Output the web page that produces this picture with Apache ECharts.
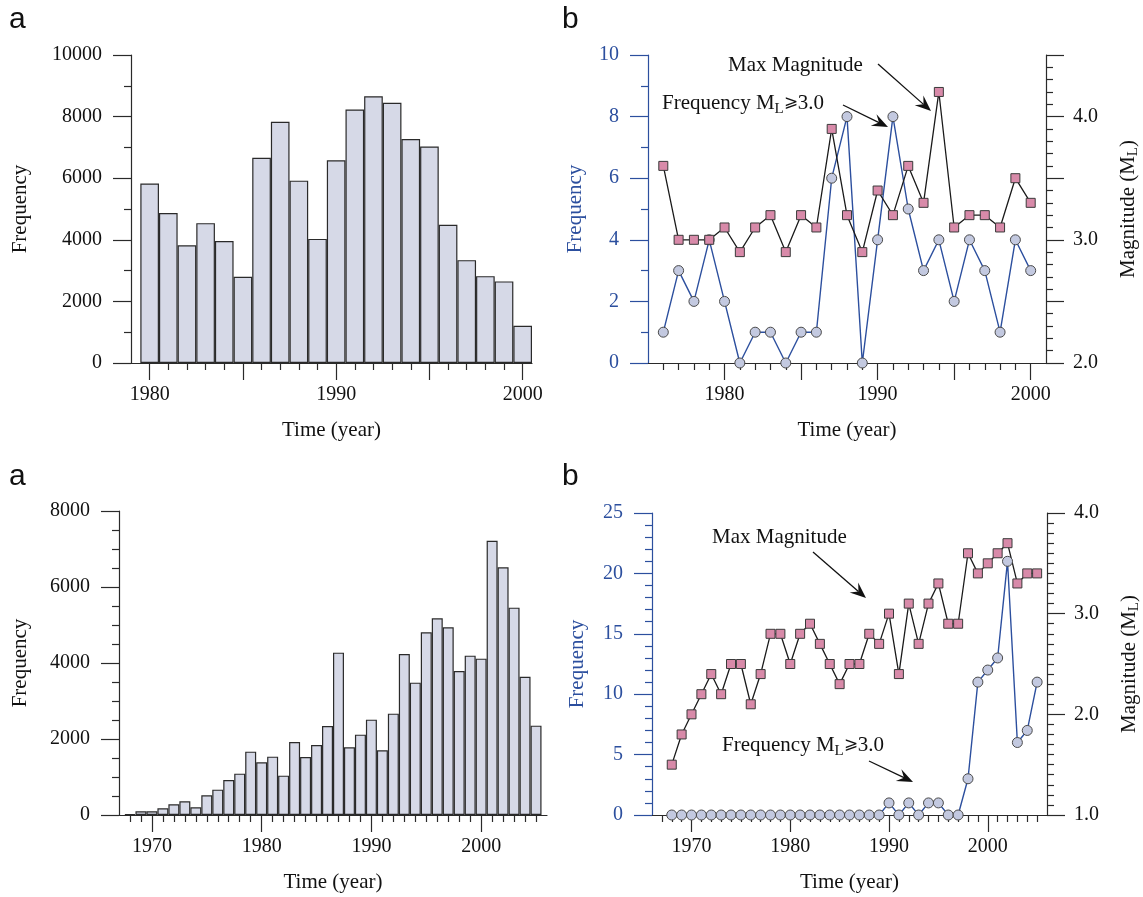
<!DOCTYPE html>
<html>
<head>
<meta charset="utf-8">
<script src="https://cdn.jsdelivr.net/npm/echarts@6/dist/echarts.min.js"></script>
<style>
html, body { margin: 0; padding: 0; background: #fff; }
#main { width: 1143px; height: 897px; }
</style>
</head>
<body>
<div id="main"></div>
<script>
// top row, panel a: yearly event counts
var yearsA = [1980,1981,1982,1983,1984,1985,1986,1987,1988,1989,1990,1991,1992,1993,1994,1995,1996,1997,1998,1999,2000];
var countsA = [5830,4870,3820,4540,3960,2800,6660,7830,5920,4030,6580,8230,8660,8450,7270,7030,4490,3340,2820,2650,1210];

// top row, panel b: frequency of ML>=3.0 and max magnitude
var yearsB = [1976,1977,1978,1979,1980,1981,1982,1983,1984,1985,1986,1987,1988,1989,1990,1991,1992,1993,1994,1995,1996,1997,1998,1999,2000];
var freqB = [1,3,2,4,2,0,1,1,0,1,1,6,8,0,4,8,5,3,4,2,4,3,1,4,3];
var magB = [3.6,3.0,3.0,3.0,3.1,2.9,3.1,3.2,2.9,3.2,3.1,3.9,3.2,2.9,3.4,3.2,3.6,3.3,4.2,3.1,3.2,3.2,3.1,3.5,3.3];

// bottom row, panel a
var yearsC = [1968,1969,1970,1971,1972,1973,1974,1975,1976,1977,1978,1979,1980,1981,1982,1983,1984,1985,1986,1987,
              1988,1989,1990,1991,1992,1993,1994,1995,1996,1997,1998,1999,2000,2001,2002,2003,2004,2005];
var countsC = [20,96,96,175,281,360,202,518,667,921,1088,1667,1386,1535,1035,1921,1526,1842,2342,4272,
               1781,2114,2509,1702,2667,4237,3483,4807,5175,4939,3790,4193,4114,7219,6518,5456,3640,2351];

// bottom row, panel b
var yearsD = yearsC;
var freqD = [0,0,0,0,0,0,0,0,0,0,0,0,0,0,0,0,0,0,0,0,0,0,1,0,1,0,1,1,0,0,3,11,12,13,21,6,7,11];
var magD = [1.5,1.8,2.0,2.2,2.4,2.2,2.5,2.5,2.1,2.4,2.8,2.8,2.5,2.8,2.9,2.7,2.5,2.3,2.5,2.5,
            2.8,2.7,3.0,2.4,3.1,2.7,3.1,3.3,2.9,2.9,3.6,3.4,3.5,3.6,3.7,3.3,3.4,3.4];

// tick labels
var majorTop = [1980,1985,1990,1995,2000];
var labelTop = [1980,1990,2000];
var majorBottom = [1970,1980,1990,2000];

var serif = 'Liberation Serif';
var blue = '#2c4f9e';
var dark = '#2a2a2a';

function pairs(xs, ys) {
    return xs.map(function (x, i) { return [x, ys[i]]; });
}
function minorYears(a, b, majors) {
    var out = [];
    for (var y = Math.ceil(a); y <= b; y++) {
        if (majors.indexOf(y) < 0 && y > a && y < b) out.push(y);
    }
    return out;
}
function plain(v) { return String(v); }

var grids = [
    { left: 131, top: 55, width: 401, height: 308 },
    { left: 648, top: 55, width: 398, height: 308 },
    { left: 119, top: 511, width: 428, height: 304 },
    { left: 652, top: 513, width: 395, height: 302 }
];
var xRanges = [[1979, 2000.5], [1975, 2001], [1967, 2006], [1966, 2006]];

function xMain(g, majors, labels) {
    return {
        type: 'value', gridIndex: g, min: xRanges[g][0], max: xRanges[g][1],
        position: 'bottom',
        axisLine: { show: true, onZero: false, lineStyle: { color: dark, width: 1.2 } },
        axisTick: { show: true, length: 17, customValues: majors, lineStyle: { color: dark, width: 1.2 } },
        axisLabel: { customValues: labels, margin: 22, color: '#111', fontFamily: serif, fontSize: 20, formatter: plain },
        splitLine: { show: false },
        name: 'Time (year)', nameLocation: 'middle', nameGap: 57,
        nameTextStyle: { color: '#111', fontFamily: serif, fontSize: 21 }
    };
}
function xMinor(g, majors) {
    return {
        type: 'value', gridIndex: g, min: xRanges[g][0], max: xRanges[g][1],
        position: 'bottom',
        axisLine: { show: false },
        axisTick: { show: true, length: 7, customValues: minorYears(xRanges[g][0], xRanges[g][1], majors), lineStyle: { color: dark, width: 1.2 } },
        axisLabel: { show: false },
        splitLine: { show: false }
    };
}
function yAxis(g, opt) {
    var c = opt.color || dark;
    return {
        type: 'value', gridIndex: g, min: opt.min, max: opt.max, interval: opt.interval,
        position: opt.position || 'left',
        axisLine: { show: true, onZero: false, lineStyle: { color: c, width: 1.2 } },
        axisTick: { show: true, length: 18, lineStyle: { color: c, width: 1.2 } },
        minorTick: { show: true, splitNumber: opt.minor, length: 7, lineStyle: { color: c, width: 1.2 } },
        axisLabel: { margin: opt.margin || 29, color: opt.labelColor || c, fontFamily: serif, fontSize: 20,
                     formatter: opt.formatter || plain },
        splitLine: { show: false },
        name: opt.name, nameLocation: 'middle', nameGap: opt.nameGap, nameRotate: 90,
        nameTextStyle: {
            color: opt.labelColor || c, fontFamily: serif, fontSize: 21,
            rich: {
                t: { fontFamily: serif, fontSize: 21, color: '#111' },
                s: { fontFamily: serif, fontSize: 15, color: '#111', padding: [10, 0, 0, 0] }
            }
        }
    };
}
function magFormatter(v) {
    return Math.abs(v - Math.round(v)) < 1e-6 ? v.toFixed(1) : '';
}

var circleStyle = { color: '#c3c9e0', borderColor: '#4a4a4a', borderWidth: 1 };
var squareStyle = { color: '#d88aa9', borderColor: '#3a3a3a', borderWidth: 1 };

function arrow(x1, y1, x2, y2) {
    var dx = x2 - x1, dy = y2 - y1, L = Math.sqrt(dx * dx + dy * dy);
    var ux = dx / L, uy = dy / L, nx = -uy, ny = ux;
    var len = 16, hw = 6.5, notch = 10;
    var bx = x2 - ux * len, by = y2 - uy * len;
    var mx = x2 - ux * notch, my = y2 - uy * notch;
    return [
        { type: 'line', shape: { x1: x1, y1: y1, x2: mx, y2: my }, style: { stroke: '#111', lineWidth: 1.3 } },
        { type: 'polygon', shape: { points: [[x2, y2], [bx + nx * hw, by + ny * hw], [mx, my], [bx - nx * hw, by - ny * hw]] },
          style: { fill: '#111' } }
    ];
}
function label(x, y, text) {
    return {
        type: 'text', x: x, y: y,
        style: {
            text: text, verticalAlign: 'middle', fontFamily: serif, fontSize: 21, fill: '#111',
            rich: {
                t: { fontFamily: serif, fontSize: 21, fill: '#111' },
                s: { fontFamily: serif, fontSize: 15, fill: '#111', padding: [12, 0, 0, 0] },
                g: { fontFamily: 'DejaVu Serif', fontSize: 17, fill: '#111' }
            }
        }
    };
}
function letter(x, y, t) {
    return { type: 'text', x: x, y: y,
             style: { text: t, verticalAlign: 'middle', fontFamily: 'Liberation Sans', fontSize: 30, fill: '#111' } };
}
var freqText = '{t|Frequency M}{s|L}{g|⩾}{t|3.0}';

var graphics = [
    letter(9, 20, 'a'), letter(562, 20, 'b'), letter(9, 477, 'a'), letter(562, 477, 'b'),
    label(728, 65, '{t|Max Magnitude}'),
    label(662, 103, freqText),
    label(712, 537, '{t|Max Magnitude}'),
    label(722, 745, freqText)
].concat(arrow(878, 64, 931, 111))
 .concat(arrow(843, 105, 888, 127))
 .concat(arrow(813, 552, 866, 598))
 .concat(arrow(869, 761, 913, 782));

var myChart = echarts.init(document.getElementById('main'), null, { renderer: 'canvas' });

var option = {
    animation: false,
    backgroundColor: '#fff',
    grid: grids.map(function (g) {
        return { left: g.left, top: g.top, width: g.width, height: g.height, containLabel: false, outerBoundsMode: 'none' };
    }),
    xAxis: [
        xMain(0, majorTop, labelTop), xMinor(0, majorTop),
        xMain(1, majorTop, labelTop), xMinor(1, majorTop),
        xMain(2, majorBottom, majorBottom), xMinor(2, majorBottom),
        xMain(3, majorBottom, majorBottom), xMinor(3, majorBottom)
    ],
    yAxis: [
        yAxis(0, { min: 0, max: 10000, interval: 2000, minor: 2, name: 'Frequency', nameGap: 100, labelColor: '#111' }),
        yAxis(1, { min: 0, max: 10, interval: 2, minor: 2, color: blue, name: 'Frequency', nameGap: 62 }),
        yAxis(1, { min: 2, max: 4.5, interval: 0.5, minor: 5, position: 'right', margin: 27, labelColor: '#111',
                   formatter: magFormatter, name: '{t|Magnitude (M}{s|L}{t|)}', nameGap: 70 }),
        yAxis(2, { min: 0, max: 8000, interval: 2000, minor: 4, name: 'Frequency', nameGap: 88, labelColor: '#111' }),
        yAxis(3, { min: 0, max: 25, interval: 5, minor: 5, color: blue, name: 'Frequency', nameGap: 64 }),
        yAxis(3, { min: 1, max: 4, interval: 1, minor: 10, position: 'right', margin: 27, labelColor: '#111',
                   formatter: magFormatter, name: '{t|Magnitude (M}{s|L}{t|)}', nameGap: 70 })
    ],
    series: [
        {
            type: 'bar', xAxisIndex: 0, yAxisIndex: 0, data: pairs(yearsA, countsA),
            barWidth: grids[0].width / (xRanges[0][1] - xRanges[0][0]),
            itemStyle: { color: '#d6d9e7', borderColor: dark, borderWidth: 1.2 }
        },
        {
            type: 'line', xAxisIndex: 2, yAxisIndex: 1, data: pairs(yearsB, freqB),
            symbol: 'circle', symbolSize: 10, itemStyle: circleStyle,
            lineStyle: { color: blue, width: 1.4 }
        },
        {
            type: 'line', xAxisIndex: 2, yAxisIndex: 2, data: pairs(yearsB, magB),
            symbol: 'rect', symbolSize: 9, itemStyle: squareStyle,
            lineStyle: { color: '#1a1a1a', width: 1.3 }
        },
        {
            type: 'bar', xAxisIndex: 4, yAxisIndex: 3, data: pairs(yearsC, countsC),
            barWidth: grids[2].width / (xRanges[2][1] - xRanges[2][0]),
            itemStyle: { color: '#d6d9e7', borderColor: dark, borderWidth: 1.2 }
        },
        {
            type: 'line', xAxisIndex: 6, yAxisIndex: 4, data: pairs(yearsD, freqD),
            symbol: 'circle', symbolSize: 10, itemStyle: circleStyle,
            lineStyle: { color: blue, width: 1.4 }
        },
        {
            type: 'line', xAxisIndex: 6, yAxisIndex: 5, data: pairs(yearsD, magD),
            symbol: 'rect', symbolSize: 9, itemStyle: squareStyle,
            lineStyle: { color: '#1a1a1a', width: 1.3 }
        }
    ],
    graphic: graphics
};

myChart.setOption(option);
</script>
</body>
</html>
